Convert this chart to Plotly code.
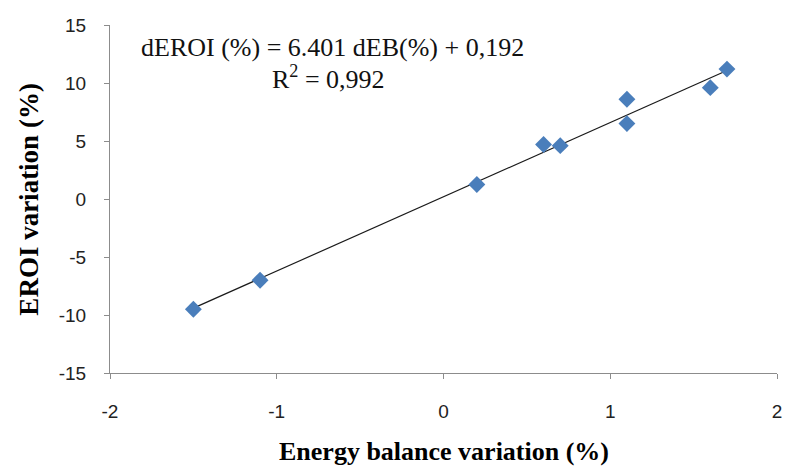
import plotly.graph_objects as go

# Data
eb_variation = [-1.5, -1.1, 0.2, 0.6, 0.7, 1.1, 1.1, 1.6, 1.7]
eroi_variation = [-9.5, -7.0, 1.25, 4.7, 4.6, 8.6, 6.5, 9.6, 11.2]
slope = 6.401
intercept = 0.192
x_ticks = [-2, -1, 0, 1, 2]
x_tick_labels = ["-2", "-1", "0", "1", "2"]
y_ticks = [-15, -10, -5, 0, 5, 10, 15]
y_tick_labels = ["-15", "-10", "-5", "0", "5", "10", "15"]
eq_line1 = "dEROI (%) = 6.401 dEB(%) + 0,192"
eq_line2 = "R<sup>2</sup> = 0,992"
x_title = "Energy balance variation (%)"
y_title = "EROI variation (%)"

x_min, x_max = min(eb_variation), max(eb_variation)
trend_x = [x_min, x_max]
trend_y = [slope * v + intercept for v in trend_x]

fig = go.Figure()
fig.add_trace(go.Scatter(
    x=trend_x, y=trend_y, mode="lines",
    line=dict(color="#1a1a1a", width=1.2),
    showlegend=False, hoverinfo="skip",
))
fig.add_trace(go.Scatter(
    x=eb_variation, y=eroi_variation, mode="markers",
    marker=dict(symbol="diamond", size=13, color="#4A7EBB",
                line=dict(width=0)),
    showlegend=False,
))

axis_common = dict(
    showgrid=False, zeroline=False, showline=True,
    linecolor="#8c8c8c", linewidth=1.2,
    ticks="outside", ticklen=5, tickcolor="#8c8c8c", tickwidth=1,
    tickfont=dict(family="Liberation Sans", size=19, color="#222222"),
)

fig.update_xaxes(range=[-2, 2], tickvals=x_ticks, ticktext=x_tick_labels,
                 ticklabelstandoff=16, **axis_common)
fig.update_yaxes(range=[-15, 15], tickvals=y_ticks, ticktext=y_tick_labels,
                 ticklabelstandoff=14, **axis_common)

serif = "Liberation Serif"
fig.add_annotation(x=-0.667, y=13.1, xref="x", yref="y", text=eq_line1,
                   showarrow=False, xanchor="center", yanchor="middle",
                   font=dict(family=serif, size=26, color="#111111"))
fig.add_annotation(x=-0.69, y=10.5, xref="x", yref="y", text=eq_line2,
                   showarrow=False, xanchor="center", yanchor="middle",
                   font=dict(family=serif, size=26, color="#111111"))

fig.add_annotation(x=0.5, y=-0.225, xref="paper", yref="paper", text="<b>" + x_title + "</b>",
                   showarrow=False, xanchor="center", yanchor="middle",
                   font=dict(family=serif, size=26, color="#000000"))
fig.add_annotation(x=-0.122, y=0.5, xref="paper", yref="paper", text="<b>" + y_title + "</b>",
                   showarrow=False, xanchor="center", yanchor="middle", textangle=-90,
                   font=dict(family=serif, size=27, color="#000000"))

fig.update_layout(
    width=791, height=471,
    margin=dict(l=110, r=9, t=25, b=98),
    paper_bgcolor="white", plot_bgcolor="white",
)

fig.write_html("out.html", config={"displayModeBar": False},
               post_script="document.body.style.margin='0';")
